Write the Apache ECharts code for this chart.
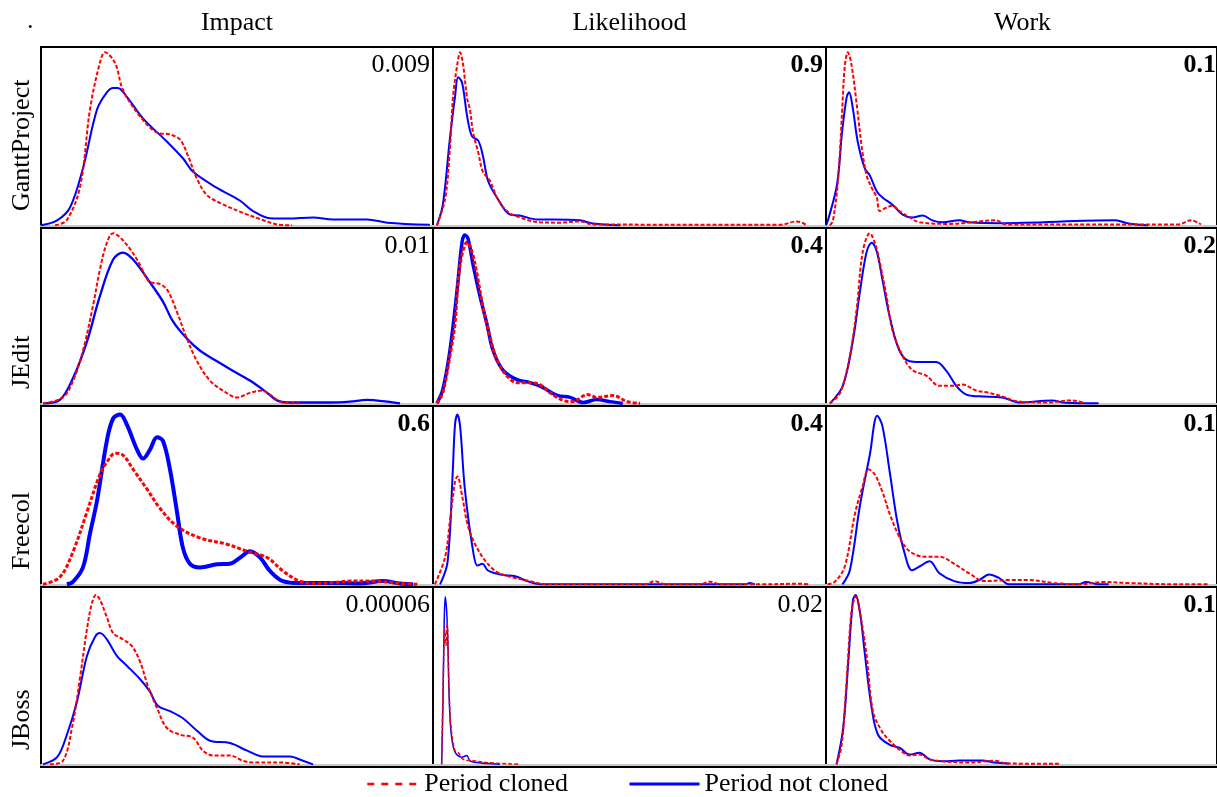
<!DOCTYPE html>
<html><head><meta charset="utf-8">
<script src="https://cdn.jsdelivr.net/npm/echarts@6/dist/echarts.min.js"></script>
<style>html,body{margin:0;padding:0;background:#fff}#c{width:1217px;height:797px}</style>
</head><body><div id="c"></div>
<script>
// ---------- labels ----------
const projects = ['GanttProject', 'JEdit', 'Freecol', 'JBoss'];
const measures = ['Impact', 'Likelihood', 'Work'];
const pValues = [
  ['0.009', '0.9', '0.1'],
  ['0.01', '0.4', '0.2'],
  ['0.6', '0.4', '0.1'],
  ['0.00006', '0.02', '0.1']
];
const seriesNames = ['Period cloned', 'Period not cloned'];

// ---------- density curves: [x (share of range, %), density (% of panel max)] ----------
const ganttImpactCloned = [[3.6,0],[6.6,3],[10,22],[12.5,65],[15,91],[16.3,97],[18.9,91],[20.9,76],[25.3,61],[29.6,52],[32.9,51],[35.5,48],[37.5,39],[39.8,26],[42.3,17],[45.7,12.5],[51.5,7],[56.6,3],[60.2,0.5],[64,0]];
const ganttImpactNot = [[0,0],[4.1,2.8],[7.4,10],[10.7,32],[14.3,65],[16.8,74.6],[18.4,77],[19.6,77],[21.9,72],[26,60],[32.1,47],[36.2,37.6],[38.8,30],[44.9,21],[50.8,13.8],[54.1,8],[58.4,4],[63,3.8],[69.4,4.4],[74.5,3.3],[83.2,3.3],[88.3,1.5],[99.2,0.3]];
const ganttLikelihoodCloned = [[1,0],[3.1,15],[4.3,43],[5.1,72],[6.1,89],[6.9,97],[7.6,91],[8.7,71],[9.4,65],[10.2,52],[11.5,41],[12.7,30],[14.5,25],[16.3,15.5],[18.8,8],[22.1,4.4],[27.2,1.7],[32.3,1.5],[37.4,2.2],[40.7,0.5],[88.3,0.3],[92.6,2.2],[95.2,0]];
const ganttLikelihoodNot = [[1,0],[2.5,11.6],[4.3,48.6],[5.6,72],[6.4,83],[7.4,80],[8.7,61],[9.9,50],[11.5,47.5],[12.7,39],[14,25],[16.3,15.5],[19.6,6],[22.1,5.5],[26.5,3.3],[30.5,3.3],[37.4,2.8],[40.7,1],[47.6,0]];
const ganttWorkCloned = [[1,0],[1.8,2.8],[3.1,26],[4.1,63],[4.8,89],[5.6,97],[6.6,89],[7.9,67],[9.2,43],[10.4,28],[11.7,21],[13,15.5],[13.7,8],[15.5,10],[17,11],[18.8,8],[21.4,4.4],[23.9,1.7],[31.6,0.8],[43.5,2.8],[46,0.5],[90,0.5],[93.4,2.8],[95.9,0.5]];
const ganttWorkNot = [[0,0],[0.5,2.8],[2.8,22.6],[4.1,52],[5.3,72],[5.9,74.6],[6.9,65],[8.1,47],[9.9,32],[11.2,28],[13,19],[14.5,15.5],[17,11.6],[19.6,6],[22.1,4.4],[24.7,5.5],[27.2,2.8],[29.8,1.7],[34.1,2.8],[36.6,1.7],[44.3,1.2],[74,2.8],[77.4,1],[82.4,0]];

const jeditImpactCloned = [[0.5,0],[5.6,3.4],[8.2,13],[10.7,30],[13.3,56],[15,76],[16.8,91.6],[18.4,97],[20.9,93],[24.5,82],[27,71],[27.8,69],[30.4,68],[32.4,64],[34.7,52],[37.2,37],[39.8,24],[43.1,13],[46.4,7.3],[50,3.4],[53.3,6],[56.4,7.3],[58.4,5],[61.7,0.5],[66,0]];
const jeditImpactNot = [[0.5,0],[4.8,2],[8.2,14.6],[11.7,35],[15,61],[18.4,82],[20.9,86],[23.5,82],[27.8,69],[31.1,58],[33.7,46.6],[37.2,37],[40.6,30],[44.9,24],[49,18.5],[53.3,13],[57.7,6],[60.2,1.7],[62.8,0.5],[73.7,0.5],[78.8,1],[83.2,2],[88.3,1],[91.6,0]];
const jeditLikelihoodCloned = [[1,0],[2.5,6],[4.3,27],[5.6,45.5],[6.4,70],[7.4,85],[8.7,92],[9.9,86.5],[11.2,73.6],[12.7,55],[14.5,38],[16.3,24.7],[18.8,15.7],[21.4,11.8],[24.7,11.8],[27.2,10.7],[29.8,6],[33.1,1.7],[35.6,1],[39.2,5],[41.7,3.4],[45.8,4.5],[49.4,1],[52.7,0]];
const jeditLikelihoodNot = [[1,0],[2.5,8],[4.3,30],[6.1,64],[7.4,92],[8.1,96],[8.9,94],[10.2,79],[12,60.7],[13.7,45.5],[15.3,30],[17.8,19],[21.4,13.5],[24.7,11.8],[28,9],[31.6,4.5],[34.9,3.4],[38.2,0.5],[41.7,2.2],[45,1],[48.3,0]];
const jeditWorkCloned = [[1,0],[3.6,6],[6.1,27],[7.9,55],[9.4,86.5],[11.2,97],[12.5,91.6],[13.7,81],[15.5,60.7],[17,41.6],[19.6,27],[22.1,19],[25.7,15.7],[29,10],[32.3,10],[34.9,10.7],[38.4,7.3],[41.7,6],[44.3,4.5],[49.4,1],[57,0.5],[62.8,1.7],[66.4,0]];
const jeditWorkNot = [[1,0],[4.3,10],[6.9,36],[8.7,64],[10.4,86.5],[11.7,91.6],[13,86.5],[14.5,69.7],[16.3,49.4],[18.8,30],[21.4,24],[23.9,23.6],[28.2,23.6],[30.8,18.5],[33.3,10],[35.9,5],[39.2,4],[45,3.4],[49.4,0.5],[57.8,1.7],[61.3,0.3],[69.7,0]];

const freecolImpactCloned = [[0.5,0],[4.8,4],[8.2,18.5],[11.7,40.5],[15,61.5],[16.8,68.5],[18.9,73.5],[20.9,72.5],[23.5,64.5],[27,53.5],[30.4,42.5],[34.7,32.5],[40.6,26],[47.4,22.5],[52.6,18.5],[57.7,15],[61.7,7.5],[66,1.8],[70.4,0.5],[74.5,1],[78.8,1.8],[84.7,1.8],[91.6,0.5],[96,0]];
const freecolImpactNot = [[6.6,0],[8.2,1.5],[10.7,9.5],[12.5,28.5],[14.3,47],[16.8,80.5],[18.4,93],[20.2,95.2],[21.9,89.5],[24.5,75.5],[26,70.5],[27.8,75.5],[29.6,82.5],[31.1,80.5],[32.9,64.5],[34.7,40.5],[36.2,20.5],[38,11.5],[40.6,9.5],[44.9,11.2],[48.2,11.5],[50.8,15],[53.3,18.5],[55.9,15],[58.4,7.5],[61.7,1.8],[66,0.7],[76.3,0.7],[81.4,0.5],[87.2,1.8],[91.6,0.5],[94.9,0]];
const freecolLikelihoodCloned = [[0.5,0],[3.1,15.5],[4.3,35.5],[5.6,57.5],[6.2,60.5],[7.5,48.5],[8.8,33.5],[10.7,22.5],[13.2,13.5],[15.8,7.5],[18.3,5.1],[20.9,3.5],[24.7,1.8],[28.5,0],[42.5,0],[53.9,0],[56.5,1.8],[59,0],[67.9,0],[70.5,1.5],[73,0],[83.2,0],[93.4,0.3],[95.9,0]];
const freecolLikelihoodNot = [[1.8,0],[3.7,12.5],[5,62],[5.6,89.5],[6.2,95.2],[6.9,88.5],[8.1,53.5],[10.1,20],[11.3,10.5],[12.6,11.5],[13.9,7.9],[15.8,6.2],[18.3,5.1],[20.9,4.5],[23.4,2.3],[26,0.5],[28.5,0],[79.4,0],[80.7,0.8],[81.9,0]];
const freecolWorkCloned = [[0.4,0],[2.3,1.5],[4.8,10],[7.4,39.5],[9.3,54.5],[10.9,64.5],[12.5,61.5],[14.4,52],[16.3,39.5],[18.8,26.5],[21.4,18.5],[25.2,15.5],[29,15.5],[32.8,11.5],[36.6,6.2],[40.5,1.8],[46.8,2.4],[51.9,2.4],[58.3,0.7],[64.6,0],[71,1.3],[77.4,0.7],[90.1,0],[97.7,0]];
const freecolWorkNot = [[4.2,0],[6.1,7.9],[8.7,44.5],[11.2,72.5],[13.1,94.5],[14.4,89],[16.3,63],[18.2,35.5],[20.1,17.5],[22,7.9],[23.9,10],[26.5,12.9],[29,6.2],[32.8,1.8],[36.6,0.7],[39.2,2.4],[41.7,5.5],[44.3,3.5],[46.8,0],[58.3,0],[64.6,0],[66.5,1.3],[69.7,0],[72.3,0]];

const jbossImpactCloned = [[2.3,0],[5.6,2],[7.9,20.5],[9.9,48],[11.7,76],[13,91],[14,95.5],[15,93],[16.8,83],[18.4,74],[20.9,70.5],[23.2,66.7],[25.3,57.7],[27.3,44],[29.6,31.7],[32.1,20.5],[35.5,16.7],[38.8,15],[41.3,7.7],[43.9,5],[48.2,5],[51.5,2],[54.1,1],[61.7,1],[66,0]];
const jbossImpactNot = [[0.5,0],[4.1,4],[6.6,16.7],[9.2,35.6],[11.7,61],[13.8,72],[15,74],[16.8,70.5],[19.4,61],[21.9,55.6],[25.3,48],[27.8,41],[29.8,33],[32.9,30],[36.2,26],[39.8,18.9],[43.1,13.3],[48.2,12],[52.6,7.7],[56.6,4.4],[63.5,4.4],[66.8,2],[69.4,0]];
const jbossLikelihoodCloned = [[2.2,0],[2.6,48],[3,76],[3.3,67],[3.6,80],[4,48],[4.3,30],[4.8,16.7],[5.6,7.7],[6.4,6.6],[7.7,2.8],[10.3,2],[13.7,1],[22,0]];
const jbossLikelihoodNot = [[2.2,0],[2.5,30],[2.8,74],[3.1,94.5],[3.5,85.5],[3.8,67],[4.1,39],[4.5,20.5],[5.2,9.4],[6,5.5],[7.3,4],[8.6,5],[9.4,2],[11.1,1],[17,0]];
const jbossWorkCloned = [[2.7,0],[4,11],[5.3,48],[6.5,85.5],[7.6,94.5],[8.7,85.5],[10.4,61],[12,30],[14.2,19],[16.3,13.3],[18.8,8.3],[21.4,5],[23.9,5.5],[26.5,2.8],[29.8,1.7],[36.6,1],[43.4,2],[46,0.5],[60,0.3]];
const jbossWorkNot = [[2.7,0],[4.4,20.5],[5.7,57.7],[6.9,92.8],[7.6,95.5],[8.7,85.5],[9.9,63],[11.6,33],[13.3,16.7],[16.3,11],[18.8,9.4],[21.4,5.5],[23.9,6.6],[26.5,2.8],[29.8,1.7],[34.1,2.2],[40,2.2],[43,1],[46.8,0.5]];

const clonedCurves = [
  [ganttImpactCloned, ganttLikelihoodCloned, ganttWorkCloned],
  [jeditImpactCloned, jeditLikelihoodCloned, jeditWorkCloned],
  [freecolImpactCloned, freecolLikelihoodCloned, freecolWorkCloned],
  [jbossImpactCloned, jbossLikelihoodCloned, jbossWorkCloned]
];
const notClonedCurves = [
  [ganttImpactNot, ganttLikelihoodNot, ganttWorkNot],
  [jeditImpactNot, jeditLikelihoodNot, jeditWorkNot],
  [freecolImpactNot, freecolLikelihoodNot, freecolWorkNot],
  [jbossImpactNot, jbossLikelihoodNot, jbossWorkNot]
];

// ---------- layout & style (not data) ----------
const FONT = '"Liberation Serif", "Times New Roman", serif';
const colLeft = [41, 433, 826], colWidth = [392, 393, 393];
const rowTop = [47, 228, 406, 587], rowHeight = [181, 178, 181, 180];
const RED = '#ff0000', BLUE = '#0000ff';
const lineWidths = [ // [cloned, not cloned]
  [[2, 2], [2, 2], [2, 2]],
  [[2, 2.3], [3, 3.5], [2, 2]],
  [[3, 4], [2, 2], [2, 2]],
  [[2, 2], [1.5, 1.5], [2, 2]]
];

const grids = [], xAxes = [], yAxes = [], series = [], graphics = [];
for (let r = 0; r < projects.length; r++) {
  for (let c = 0; c < measures.length; c++) {
    const idx = grids.length;
    grids.push({ left: colLeft[c], top: rowTop[r], width: colWidth[c], height: rowHeight[r],
      show: true, borderColor: '#000', borderWidth: 2, backgroundColor: 'transparent' });
    xAxes.push({ gridIndex: idx, type: 'value', min: 0, max: 100,
      axisLine: { show: true, onZero: true, lineStyle: { color: '#c8c8c8', width: 2 } },
      axisTick: { show: false }, axisLabel: { show: false }, splitLine: { show: false } });
    yAxes.push({ gridIndex: idx, type: 'value', min: -1.5, max: 100, show: false,
      splitLine: { show: false } });
    series.push({ name: seriesNames[1], type: 'line', xAxisIndex: idx, yAxisIndex: idx,
      data: notClonedCurves[r][c], symbol: 'none', smooth: 0.35, silent: true,
      lineStyle: { color: BLUE, width: lineWidths[r][c][1] }, itemStyle: { color: BLUE }, z: 2 });
    series.push({ name: seriesNames[0], type: 'line', xAxisIndex: idx, yAxisIndex: idx,
      data: clonedCurves[r][c], symbol: 'none', smooth: 0.35, silent: true,
      lineStyle: { color: RED, width: lineWidths[r][c][0], type: [4, 2] }, itemStyle: { color: RED }, z: 3 });
    const p = pValues[r][c];
    graphics.push({ type: 'text', x: colLeft[c] + colWidth[c] - 3, y: rowTop[r] + 18.5, z: 10,
      style: { text: p, font: (parseFloat(p) > 0.05 ? 'bold ' : '') + '26px ' + FONT,
        fill: '#000', textAlign: 'right', textVerticalAlign: 'middle' } });
  }
}
measures.forEach((m, c) => graphics.push({ type: 'text', x: colLeft[c] + colWidth[c] / 2, y: 23,
  style: { text: m, font: '26px ' + FONT, fill: '#000', textAlign: 'center', textVerticalAlign: 'middle' } }));
projects.forEach((p, r) => graphics.push({ type: 'text', x: 22, y: rowTop[r] + rowHeight[r] - 17,
  rotation: Math.PI / 2,
  style: { text: p, font: '26px ' + FONT, fill: '#000', textAlign: 'left', textVerticalAlign: 'middle' } }));
graphics.push({ type: 'text', x: 27, y: 21,
  style: { text: '.', font: '26px ' + FONT, fill: '#000', textAlign: 'left', textVerticalAlign: 'middle' } });

const hiddenSymbol = { color: 'rgba(0,0,0,0)', borderColor: 'rgba(0,0,0,0)', borderWidth: 0, opacity: 0 };
const chart = echarts.init(document.getElementById('c'), null, { renderer: 'canvas' });
chart.setOption({
  animation: false,
  backgroundColor: '#fff',
  grid: grids, xAxis: xAxes, yAxis: yAxes, series: series,
  legend: [
    { left: 366, top: 771, padding: 0, itemWidth: 52, itemHeight: 14, selectedMode: false,
      textStyle: { fontFamily: FONT, fontSize: 26, color: '#000' },
      data: [{ name: seriesNames[0], itemStyle: hiddenSymbol,
        lineStyle: { color: RED, width: 2.5, type: [7, 7], opacity: 1 } }] },
    { left: 628, top: 771, padding: 0, itemWidth: 70, itemHeight: 14, selectedMode: false,
      textStyle: { fontFamily: FONT, fontSize: 26, color: '#000' },
      data: [{ name: seriesNames[1], itemStyle: hiddenSymbol,
        lineStyle: { color: BLUE, width: 3, opacity: 1 } }] }
  ],
  graphic: graphics
});
</script></body></html>
